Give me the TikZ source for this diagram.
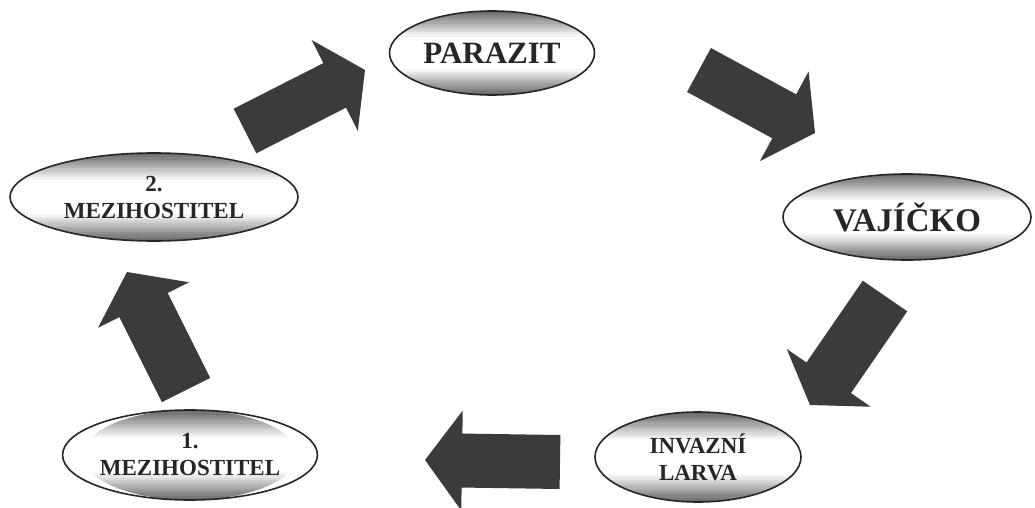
\documentclass[tikz,border=0pt]{standalone}
\usepackage{fontspec}
\setmainfont{Liberation Serif}
\usetikzlibrary{calc,shapes.geometric}
\definecolor{arrowgray}{RGB}{58,60,58}
\definecolor{ink}{RGB}{38,38,38}
\definecolor{band}{RGB}{105,105,105}
\newcommand{\blockarrow}[5]{%
  \coordinate (hb) at ($(#2)!#5!(#1)$);
  \fill[arrowgray] ($(#1)!#3!90:(#2)$) -- ($(hb)!#3!90:(#2)$) -- ($(hb)!#4!90:(#2)$) -- (#2)
    -- ($(hb)!#4!-90:(#2)$) -- ($(hb)!#3!-90:(#2)$) -- ($(#1)!#3!-90:(#2)$) -- cycle;}
% name, cx, cy, rx, ry, font style, text
\newcommand{\bandnode}[7]{%
  \begin{scope}
    \clip (#2,#3) ellipse [x radius=#4pt, y radius=#5pt];
    \foreach \k in {0,...,11}{
      \pgfmathtruncatemacro\p{100-8.3*\k}
      \fill[band!\p!white] (#2-#4,#3-#5+\k*#5/20) rectangle (#2+#4,#3-#5+\k*#5/20+#5/20+0.4);
      \fill[band!\p!white] (#2-#4,#3+#5-\k*#5/20) rectangle (#2+#4,#3+#5-\k*#5/20-#5/20-0.4);
    }
  \end{scope}
  \node[blob, #6, minimum width=2*#4pt, minimum height=2*#5pt] (#1) at (#2,#3) {#7};}
\tikzset{
  blob/.style={ellipse, draw=ink, line width=1.6pt, inner sep=0pt,
    text=ink, align=center},
  bigtext/.style={font=\bfseries\fontsize{31}{34}\selectfont},
  hugetext/.style={font=\bfseries\fontsize{33}{36}\selectfont},
  smalltext/.style={font=\bfseries\fontsize{23}{27}\selectfont}
}
\begin{document}
\begin{tikzpicture}[x=1pt,y=-1pt]
\useasboundingbox (0,0) rectangle (1035,508);
\fill[white] (0,0) rectangle (1035,508);
% ellipses
\bandnode{parazit}{492}{53}{102.5}{42}{bigtext}{PARAZIT}
\bandnode{vajicko}{907}{217}{124}{43}{hugetext}{VAJÍČKO}
\bandnode{larva}{698}{457}{103}{45}{smalltext}{INVAZNÍ\\LARVA}
\bandnode{mezi1}{190}{455}{107}{45}{smalltext}{1.\\MEZIHOSTITEL}
\bandnode{mezi2}{154}{197}{144}{44}{smalltext}{2.\\MEZIHOSTITEL}
% arrow anchors
\coordinate (a1t) at (245,131); \coordinate (a1h) at (365,70);
\coordinate (a2t) at (699,70);  \coordinate (a2h) at (815,133);
\coordinate (a3t) at (885,296); \coordinate (a3h) at (810,405);
\coordinate (a4t) at (560,462); \coordinate (a4h) at (425,460);
\coordinate (a5t) at (186,390); \coordinate (a5h) at (127,272);
\blockarrow{a1t}{a1h}{25pt}{51pt}{34pt}
\blockarrow{a2t}{a2h}{25pt}{51pt}{35pt}
\blockarrow{a3t}{a3h}{27pt}{51pt}{33pt}
\blockarrow{a4t}{a4h}{27pt}{50pt}{37pt}
\blockarrow{a5t}{a5h}{27pt}{51pt}{37pt}
\end{tikzpicture}
\end{document}
